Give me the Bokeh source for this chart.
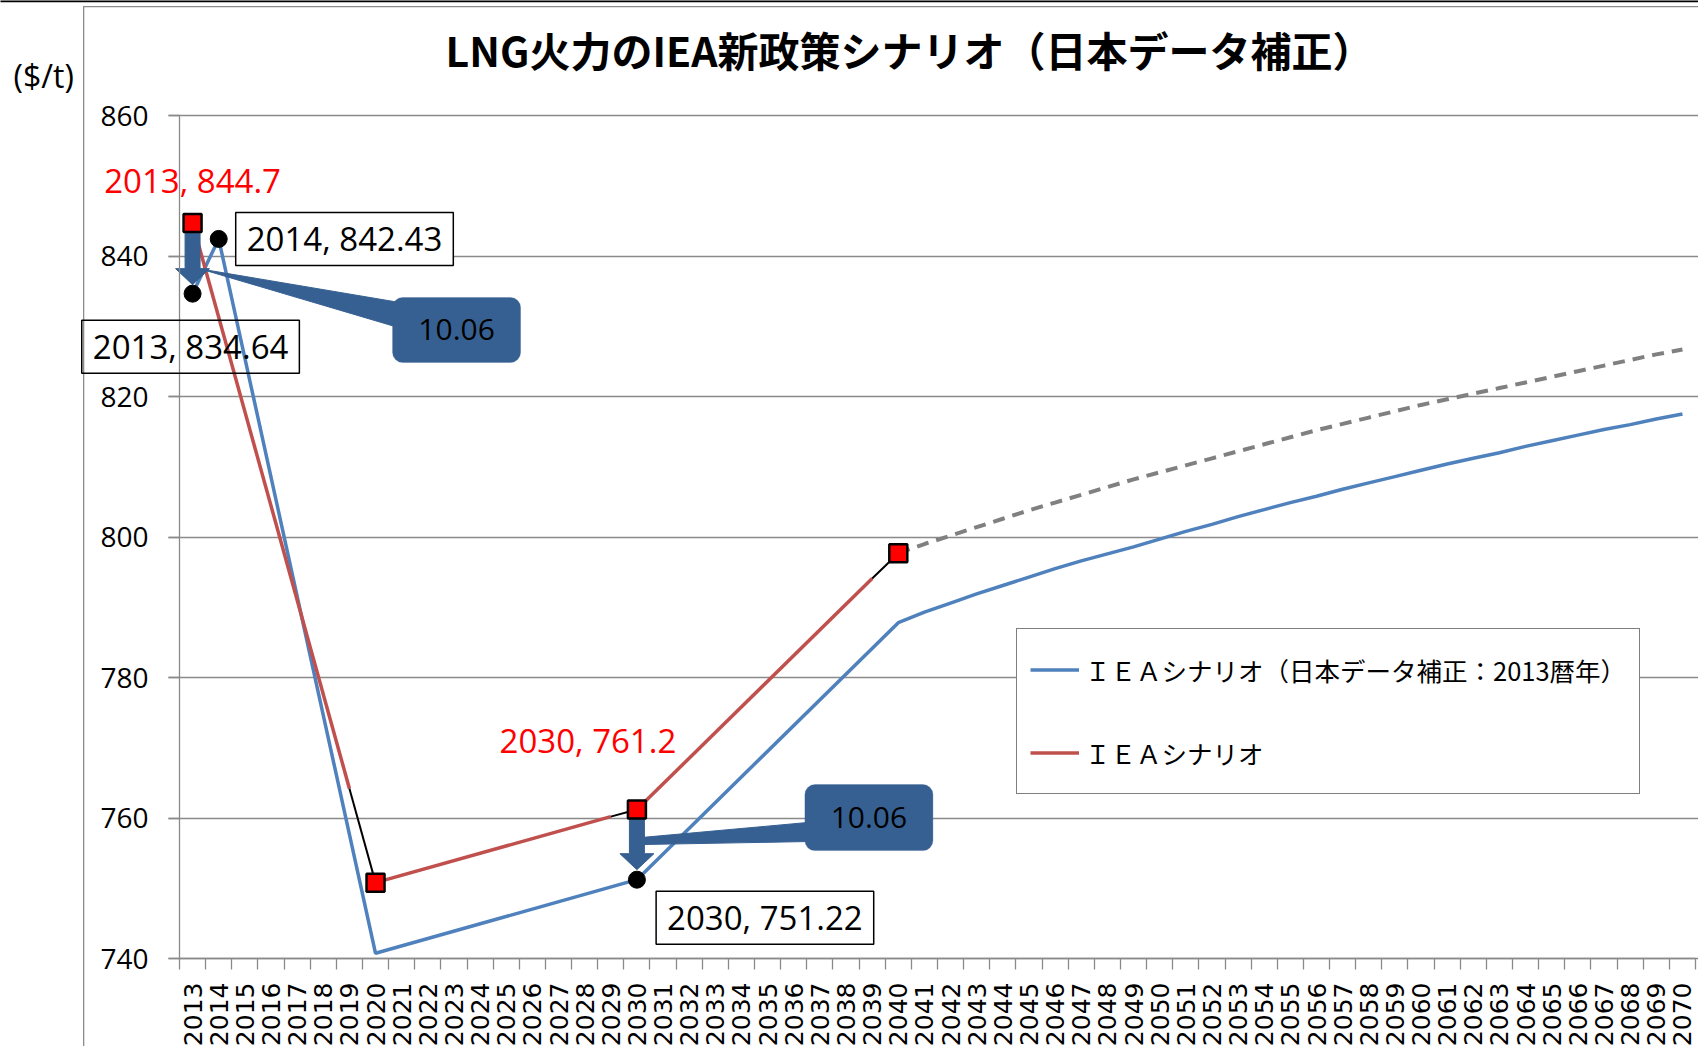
import math
from bokeh.plotting import figure
from bokeh.models import Range1d, FixedTicker, Label, BoxAnnotation, Legend, LegendItem
from bokeh.embed import file_html
from bokeh.resources import INLINE

# ---------------- data ----------------
years = [str(y) for y in range(2013, 2071)]
y_ticks = [740, 760, 780, 800, 820, 840, 860]

blue_years = [2013, 2014, 2020, 2030,
              2040, 2041, 2042, 2043, 2044, 2045, 2046, 2047, 2048, 2049,
              2050, 2051, 2052, 2053, 2054, 2055, 2056, 2057, 2058, 2059,
              2060, 2061, 2062, 2063, 2064, 2065, 2066, 2067, 2068, 2069, 2070]
blue_vals = [834.64, 842.43, 740.74, 751.22,
             787.8, 789.3, 790.6, 791.9, 793.1, 794.3, 795.5, 796.6, 797.6, 798.6,
             799.7, 800.8, 801.8, 802.9, 803.9, 804.9, 805.8, 806.8, 807.7, 808.6,
             809.5, 810.4, 811.2, 812.0, 812.9, 813.7, 814.5, 815.3, 816.0, 816.8, 817.5]

red_years = [2013, 2019, 2020, 2029, 2030, 2039, 2040]
red_vals = [844.7, 764.2, 750.8, 760.2, 761.2, 794.1, 797.7]

red_marker_years = [2013, 2020, 2030, 2040]
red_marker_vals = [844.7, 750.8, 761.2, 797.7]

dot_years = [2013, 2014, 2030]
dot_vals = [834.64, 842.43, 751.22]

dash_years = [2040, 2041, 2042, 2043, 2044, 2045, 2046, 2047, 2048, 2049,
              2050, 2051, 2052, 2053, 2054, 2055, 2056, 2057, 2058, 2059,
              2060, 2061, 2062, 2063, 2064, 2065, 2066, 2067, 2068, 2069, 2070]
dash_vals = [797.7, 799.0, 800.2, 801.4, 802.6, 803.8, 804.9, 806.0, 807.1, 808.2,
             809.2, 810.2, 811.2, 812.2, 813.2, 814.2, 815.2, 816.1, 817.0, 817.9,
             818.8, 819.6, 820.4, 821.2, 822.0, 822.8, 823.6, 824.4, 825.2, 826.0, 826.7]

diff_text = "10.06"
title_text = "LNG火力のIEA新政策シナリオ（日本データ補正）"
unit_text = "($/t)"
legend_blue = "ＩＥＡシナリオ（日本データ補正：2013暦年）"
legend_red = "ＩＥＡシナリオ"

# ---------------- layout (frame covers the whole canvas) ----------------
W, H = 1698, 1046
PL, PR = 179, 1695          # plot-area left / right (px)
PT, PB = 115, 958           # plot-area top / bottom (px)
DX = len(years) / (PR - PL)
DY = (y_ticks[-1] - y_ticks[0]) / (PB - PT)
XR = (-0.5 - PL * DX, len(years) - 0.5 + (W - PR) * DX)
YR = (y_ticks[0] - (H - PB) * DY, y_ticks[-1] + PT * DY)

BLUE = "#4F81BD"
RED = "#C0504D"
NAVY = "#376092"
GRID = "#8a8a8a"


def xi(y):
    return years.index(str(y))


p = figure(width=W, height=H, output_backend="svg", toolbar_location=None, title=None,
           x_range=Range1d(*XR), y_range=Range1d(*YR),
           min_border_left=0, min_border_right=0, min_border_top=0, min_border_bottom=0,
           background_fill_color="white", border_fill_color="white")
p.outline_line_color = None
p.xgrid.visible = False
p.ygrid.grid_line_color = GRID
p.ygrid.grid_line_width = 1.3
# grid starts 11px left of the plot area (acts as the y tick marks)
p.ygrid.cross_bounds = (-0.5 - 11 * DX, XR[1])

xa = p.xaxis[0]
xa.fixed_location = y_ticks[0]
xa.bounds = (-0.5, len(years) - 0.5)
xa.ticker = FixedTicker(ticks=list(range(len(years))),
                        minor_ticks=[i - 0.5 for i in range(len(years) + 1)])
xa.major_label_overrides = {i: y for i, y in enumerate(years)}
xa.major_label_orientation = math.pi / 2
xa.major_tick_line_color = None
xa.major_tick_out = 11
xa.major_tick_in = 0
xa.minor_tick_line_color = GRID
xa.minor_tick_line_width = 1.3
xa.minor_tick_out = 11
xa.minor_tick_in = 0
xa.axis_line_color = GRID
xa.axis_line_width = 1.3
xa.major_label_standoff = 13
xa.major_label_text_font = "DejaVu Sans"
xa.major_label_text_font_size = "25px"
xa.major_label_text_color = "black"

ya = p.yaxis[0]
ya.fixed_location = -0.5
ya.bounds = (y_ticks[0], y_ticks[-1])
ya.ticker = FixedTicker(ticks=y_ticks, minor_ticks=[])
ya.major_tick_out = 11
ya.major_tick_in = 0
ya.major_tick_line_color = GRID
ya.major_tick_line_width = 1.3
ya.minor_tick_line_color = None
ya.axis_line_color = GRID
ya.axis_line_width = 1.3
ya.major_label_standoff = 20
ya.major_label_text_font = "Open Sans"
ya.major_label_text_font_size = "28px"
ya.major_label_text_color = "black"

# chart-area border, top rule, unit and title
p.add_layout(BoxAnnotation(left=82.5, right=83.8, left_units="screen", right_units="screen",
                           top=H - 5.5, bottom=-20, top_units="screen", bottom_units="screen",
                           fill_color="#8c8c8c", fill_alpha=1, line_color=None))
p.add_layout(BoxAnnotation(left=82.5, right=W + 20, left_units="screen", right_units="screen",
                           top=H - 5.5, bottom=H - 6.8,
                           top_units="screen", bottom_units="screen",
                           fill_color="#8c8c8c", fill_alpha=1, line_color=None))
p.add_layout(BoxAnnotation(left=-20, right=W + 20, left_units="screen", right_units="screen",
                           top=H + 20, bottom=H - 1.8, top_units="screen", bottom_units="screen",
                           fill_color="black", fill_alpha=1, line_color=None))
p.add_layout(Label(x=13, y=H - 75, x_units="screen", y_units="screen",
                   text=unit_text, text_font="Open Sans", text_font_size="32px",
                   text_align="left", text_baseline="middle", text_color="black"))
p.add_layout(Label(x=909, y=H - 48, x_units="screen", y_units="screen",
                   text=title_text, text_font="Noto Sans CJK JP", text_font_size="41px",
                   text_font_style="bold", text_align="center", text_baseline="middle",
                   text_color="black"))

# ---------------- series lines ----------------
blue_r = p.line([xi(y) for y in blue_years], blue_vals, line_color=BLUE, line_width=3.5)
p.line([xi(y) for y in dash_years], dash_vals, line_color="#808080", line_width=4,
       line_dash="12 8")
rx = [xi(y) for y in red_years]
red_r = p.segment(x0=rx[0:-1:2], y0=red_vals[0:-1:2], x1=rx[1::2], y1=red_vals[1::2],
                  line_color=RED, line_width=3.5)
p.segment(x0=rx[1::2], y0=red_vals[1::2], x1=rx[2::2], y1=red_vals[2::2],
          line_color="black", line_width=2)


# ---------------- arrows and callouts ----------------
def arrow(year, v_from, v_to, tip_gap):
    x = xi(year)
    hs, hh, hl = 7.5 * DX, 17 * DX, 16 * DY
    y_tip = v_to + tip_gap * DY
    y_hb = y_tip + hl
    xs = [x - hs, x + hs, x + hs, x + hh, x, x - hh, x - hs]
    ys = [v_from, v_from, y_hb, y_hb, y_tip, y_hb, y_hb]
    return xs, ys


def offs(year, v, pts):
    x = xi(year)
    return [x + ox * DX for ox, oy in pts], [v - oy * DY for ox, oy in pts]


callouts = [
    # year, red value, blue value, tip gap, wedge pts (px), body (l, r, t, b) px
    (2013, 844.7, 834.64, 9, [(8, 46), (204, 79), (204, 104)], (200, 328, 74.5, 139.5)),
    (2030, 761.2, 751.22, 10, [(4, 28), (170, 13), (170, 32), (4, 35)], (168, 296, -25, 41)),
]
for yr, vr, vb, gap, wpts, body in callouts:
    ax, ay = arrow(yr, vr, vb, gap)
    p.patch(ax, ay, fill_color=NAVY, line_color=NAVY, line_width=1)
    wx, wy = offs(yr, vr, wpts)
    p.patch(wx, wy, fill_color=NAVY, line_color=NAVY, line_width=1)
    l, r, t, b = body
    x0 = xi(yr)
    p.add_layout(BoxAnnotation(left=x0 + l * DX, right=x0 + r * DX,
                               top=vr - t * DY, bottom=vr - b * DY,
                               fill_color=NAVY, fill_alpha=1, line_color=NAVY,
                               border_radius=10))
    p.add_layout(Label(x=x0 + (l + r) / 2 * DX, y=vr - (t + b) / 2 * DY, text=diff_text,
                       text_font="Open Sans", text_font_size="30px", text_color="black",
                       text_align="center", text_baseline="middle"))

# ---------------- markers ----------------
p.scatter([xi(y) for y in red_marker_years], red_marker_vals, marker="square", size=18,
          fill_color="#FF0000", line_color="black", line_width=2.5)
p.scatter([xi(y) for y in dot_years], dot_vals, marker="circle", size=17,
          fill_color="black", line_color="black")

# ---------------- data labels ----------------
LF = "Open Sans"
LS = "33px"


def label(text, x, y, xo, yo, align="center", color="black", box=False, fill=None):
    kw = {}
    if box:
        kw = dict(border_line_color="black", border_line_width=1.5, padding=(11, 4))
        if fill:
            kw["background_fill_color"] = fill
    p.add_layout(Label(x=x, y=y, x_offset=xo, y_offset=yo, text=text,
                       text_font=LF, text_font_size=LS, text_color=color,
                       text_align=align, text_baseline="middle", **kw))


label(f"{red_marker_years[0]}, {red_marker_vals[0]}", xi(red_marker_years[0]),
      red_marker_vals[0], 0, 42, color="#FF0000")
label(f"{red_marker_years[2]}, {red_marker_vals[2]}", xi(red_marker_years[2]),
      red_marker_vals[2], -49, 69, color="#FF0000")
label(f"{dot_years[1]}, {dot_vals[1]}", xi(dot_years[1]), dot_vals[1], 17, 0,
      align="left", box=True, fill="white")
label(f"{dot_years[0]}, {dot_vals[0]}", xi(dot_years[0]), dot_vals[0], -2, -53,
      box=True)
label(f"{dot_years[2]}, {dot_vals[2]}", xi(dot_years[2]), dot_vals[2], 128, -38,
      box=True, fill="white")

# ---------------- legend ----------------
legend = Legend(items=[LegendItem(label=legend_blue, renderers=[blue_r]),
                       LegendItem(label=legend_red, renderers=[red_r])],
                location=(1016, H - 794), orientation="vertical",
                padding=13, spacing=28, margin=0,
                label_height=55, glyph_height=55, glyph_width=49, label_standoff=6,
                label_text_font="Noto Sans CJK JP", label_text_font_size="25.5px",
                label_text_color="black",
                border_line_color="black", border_line_width=1.3,
                background_fill_color="white", background_fill_alpha=1)
p.add_layout(legend)

open("out.html", "w").write(file_html(p, INLINE))
